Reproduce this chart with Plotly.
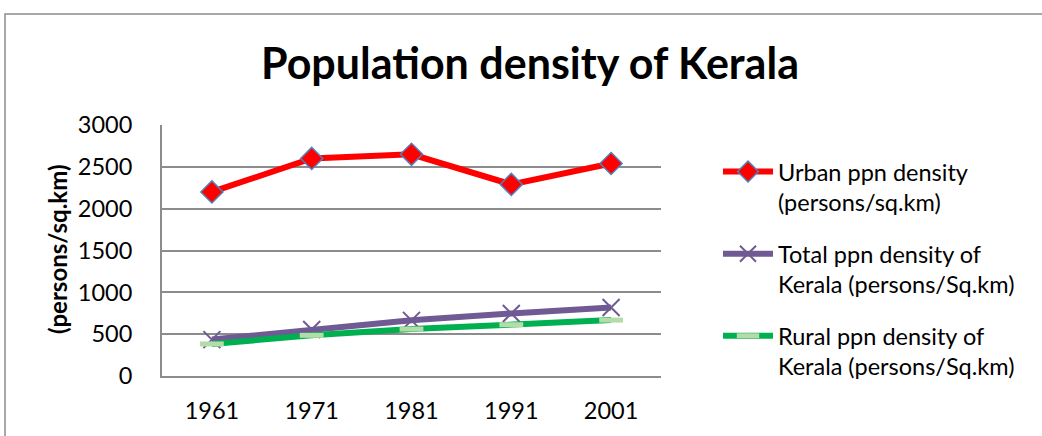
import plotly.graph_objects as go

years = ["1961", "1971", "1981", "1991", "2001"]
urban = [2200, 2600, 2650, 2290, 2540]
total = [435, 555, 665, 748, 818]
rural = [383, 486, 561, 613, 668]

names = [
    "Urban ppn density<br>(persons/sq.km)",
    "Total ppn density of<br>Kerala (persons/Sq.km)",
    "Rural ppn density of<br>Kerala (persons/Sq.km)",
]
y_title = "(persons/sq.km)"
chart_title = "Popula<span>t</span>ion density of Kerala"

FONT = "Lato"

fig = go.Figure()
fig.add_trace(go.Scatter(
    x=years, y=urban, name=names[0], legendgroup="u", mode="lines+markers",
    line=dict(color="#ff0000", width=6),
    marker=dict(symbol="diamond", size=17, color="#ff0000",
                line=dict(color="#4f81bd", width=1.5)),
))
fig.add_trace(go.Scatter(
    x=years, y=total, name=names[1], legendgroup="t", mode="lines+markers",
    line=dict(color="#705a93", width=6),
    marker=dict(symbol="x-thin", size=17, color="#705a93",
                line=dict(color="#705a93", width=2)),
))
fig.add_trace(go.Scatter(
    x=years, y=rural, name=names[2], legendgroup="r", mode="lines+markers",
    line=dict(color="#00b050", width=6),
    marker=dict(symbol="line-ew", size=17,
                line=dict(color="#b3dca8", width=5)),
))

grid = "#8c8c8c"
fig.update_layout(
    width=1042, height=436,
    margin=dict(l=162, r=381, t=125, b=58),
    paper_bgcolor="white", plot_bgcolor="white",
    font=dict(family=FONT, size=23.5, color="#000000"),
    title=dict(text="<b>" + chart_title + "</b>",
               font=dict(family=FONT, size=43, color="#000000"),
               x=530 / 1042, xref="container", xanchor="center",
               y=1 - 64 / 436, yref="container", yanchor="middle"),
    xaxis=dict(type="category", showgrid=False, showline=True,
               linecolor=grid, linewidth=2, ticks="", ticklabelstandoff=13,
               tickfont=dict(size=23.5), range=[-0.5, 4.5]),
    yaxis=dict(range=[0, 3000], dtick=500, showgrid=True, gridcolor=grid,
               gridwidth=2, showline=True, linecolor=grid, linewidth=2,
               zeroline=False, ticks="", ticklabelstandoff=23,
               tickfont=dict(size=23.5)),
    legend=dict(x=(718 - 162) / 499, y=(378 - 150) / 253,
                xanchor="left", yanchor="top", valign="top",
                font=dict(size=23.5), tracegroupgap=18,
                itemwidth=50, bgcolor="rgba(0,0,0,0)"),
    showlegend=True,
)

fig.add_annotation(text="<b>" + y_title + "</b>", textangle=-90,
                   xref="paper", yref="paper",
                   x=(57 - 162) / 499, y=(378 - 251) / 253,
                   xanchor="center", yanchor="middle", showarrow=False,
                   font=dict(family=FONT, size=24, color="#000000"))

fig.add_shape(type="rect", xref="paper", yref="paper",
              x0=(5 - 162) / 499, x1=(1050 - 162) / 499,
              y0=(378 - 445) / 253, y1=(378 - 13) / 253,
              line=dict(color="#8c8c8c", width=1.5), fillcolor="rgba(0,0,0,0)",
              layer="below")

fig.write_html(
    "out.html",
    config={"displayModeBar": False},
    post_script="document.body.style.margin='0';document.documentElement.style.overflow='hidden';",
)
